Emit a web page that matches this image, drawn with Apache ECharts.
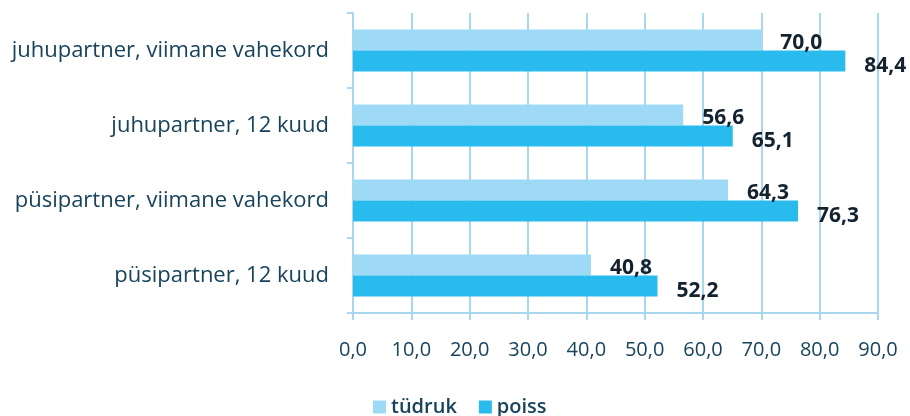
<!DOCTYPE html>
<html>
<head>
<meta charset="utf-8">
<script src="https://cdn.jsdelivr.net/npm/echarts@6/dist/echarts.min.js"></script>
<style>
  html, body { margin: 0; padding: 0; background: #ffffff; }
  #chart { width: 910px; height: 416px; }
</style>
</head>
<body>
<div id="chart"></div>
<script>
// Categories listed top to bottom
const categories = [
  'juhupartner, viimane vahekord',
  'juhupartner, 12 kuud',
  'püsipartner, viimane vahekord',
  'püsipartner, 12 kuud'
];
const tudruk = [70.0, 56.6, 64.3, 40.8];
const poiss = [84.4, 65.1, 76.3, 52.2];
const xTicks = [0, 10, 20, 30, 40, 50, 60, 70, 80, 90];

const fmt = v => v.toFixed(1).replace('.', ',');
const textColor = '#17435b';
const labelColor = '#13222e';
const lineColor = '#a9d7ef';
const font = '"Open Sans", sans-serif';

const chart = echarts.init(document.getElementById('chart'));
chart.setOption({
  animation: false,
  grid: { left: 353, right: 32, top: 13, bottom: 103 },
  xAxis: {
    type: 'value',
    min: xTicks[0],
    max: xTicks[xTicks.length - 1],
    interval: 10,
    axisLine: { show: true, lineStyle: { color: lineColor, width: 2 } },
    axisTick: { show: true, length: 7, lineStyle: { color: lineColor, width: 2 } },
    splitLine: { show: true, lineStyle: { color: lineColor, width: 2 } },
    axisLabel: {
      margin: 27,
      color: textColor,
      fontFamily: font,
      fontSize: 20,
      fontWeight: 500,
      formatter: v => fmt(v)
    }
  },
  yAxis: {
    type: 'category',
    inverse: true,
    data: categories,
    axisLine: { show: true, lineStyle: { color: lineColor, width: 2 } },
    axisTick: { show: true, length: 6, lineStyle: { color: lineColor, width: 2 } },
    axisLabel: {
      margin: 24,
      color: textColor,
      fontFamily: font,
      fontSize: 22,
      fontWeight: 500
    }
  },
  legend: {
    top: 392,
    left: 368,
    itemWidth: 13,
    itemHeight: 13,
    itemGap: 22,
    icon: 'rect',
    textStyle: { color: textColor, fontFamily: font, fontSize: 20, fontWeight: 600 },
    data: ['tüdruk', 'poiss']
  },
  series: [
    {
      name: 'tüdruk',
      type: 'bar',
      data: tudruk,
      barWidth: 21,
      barGap: '0%',
      itemStyle: { color: '#9ed9f6' },
      label: {
        show: true,
        position: 'right',
        distance: 19,
        offset: [0, 3],
        color: labelColor,
        fontFamily: font,
        fontWeight: 'bold',
        fontSize: 21,
        formatter: p => fmt(p.value)
      }
    },
    {
      name: 'poiss',
      type: 'bar',
      data: poiss,
      barWidth: 21,
      barGap: '0%',
      itemStyle: { color: '#29bbed' },
      label: {
        show: true,
        position: 'right',
        distance: 19,
        offset: [0, 5],
        color: labelColor,
        fontFamily: font,
        fontWeight: 'bold',
        fontSize: 21,
        formatter: p => fmt(p.value)
      }
    }
  ]
});
</script>
</body>
</html>
